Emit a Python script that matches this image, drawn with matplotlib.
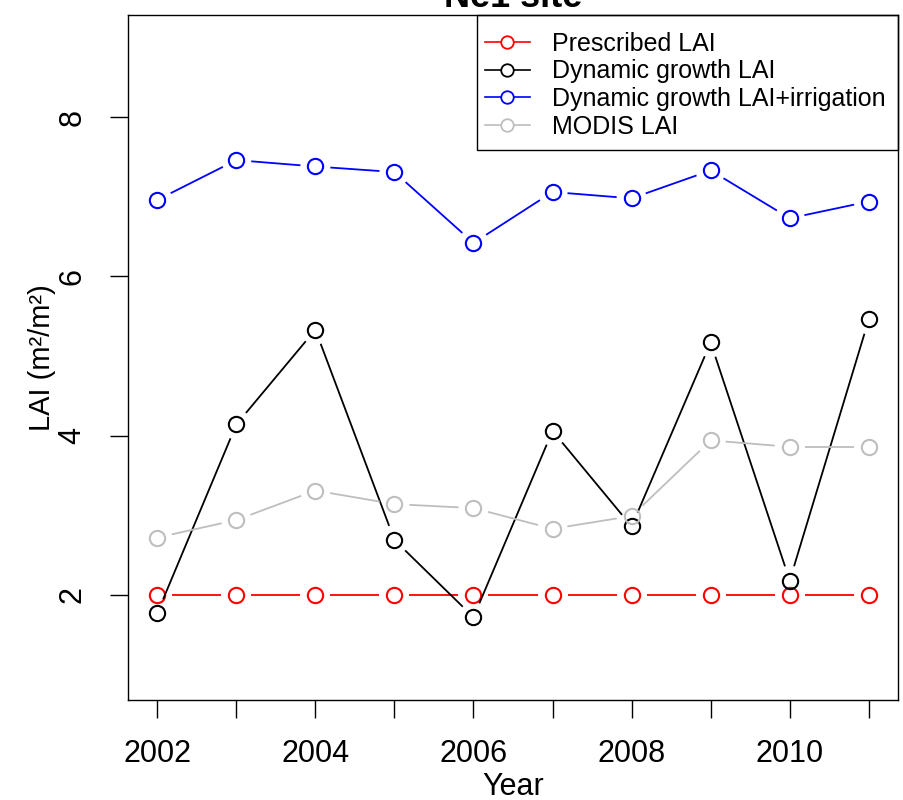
import numpy as np
import matplotlib.pyplot as plt
from matplotlib.lines import Line2D
from matplotlib.patches import Rectangle

plt.rcParams["font.family"] = ["Liberation Sans", "DejaVu Sans"]

# ── data ──────────────────────────────────────────────────────────────────────
years = [2002, 2003, 2004, 2005, 2006, 2007, 2008, 2009, 2010, 2011]
prescribed = [2.0, 2.0, 2.0, 2.0, 2.0, 2.0, 2.0, 2.0, 2.0, 2.0]
dynamic = [1.77, 4.14, 5.33, 2.69, 1.72, 4.06, 2.86, 5.17, 2.18, 5.46]
dyn_irrig = [6.96, 7.46, 7.38, 7.31, 6.42, 7.06, 6.98, 7.33, 6.73, 6.94]
modis = [2.72, 2.94, 3.31, 3.14, 3.09, 2.83, 2.99, 3.94, 3.86, 3.86]

names = ["Prescribed LAI", "Dynamic growth LAI",
         "Dynamic growth LAI+irrigation", "MODIS LAI"]
values = [prescribed, dynamic, dyn_irrig, modis]
colors = ["#ff0000", "#000000", "#0000ff", "#bebebe"]

GAP = 15  # px left open around each point, like R's type="b"

# ── plot ──────────────────────────────────────────────────────────────────────
fig = plt.figure(figsize=(9.04, 8), dpi=100)
ax = fig.add_axes([0.1416, 0.125, 0.8518, 0.856])
ax.set_xlim(2001.63, 2011.37)
ax.set_ylim(0.68, 9.28)

trans = ax.transData
inv = trans.inverted()

for vals, col in zip(values, colors):
    pts = trans.transform(np.column_stack([years, vals]))
    for p0, p1 in zip(pts[:-1], pts[1:]):
        d = p1 - p0
        L = np.hypot(*d)
        if L <= 2 * GAP:
            continue
        u = d / L
        seg = inv.transform(np.array([p0 + u * GAP, p1 - u * GAP]))
        ax.plot(seg[:, 0], seg[:, 1], color=col, linewidth=1.3,
                solid_capstyle="butt")
    ax.plot(years, vals, linestyle="none", marker="o", markersize=11,
            markerfacecolor="none", markeredgecolor=col, markeredgewidth=1.5)

ax.set_xticks(years)
ax.set_xticklabels([str(y) if y % 2 == 0 else "" for y in years])
ax.set_yticks([2, 4, 6, 8])
ax.set_yticklabels(["2", "4", "6", "8"], rotation=90, va="center")
ax.tick_params(direction="out", length=13, width=1, labelsize=22)
ax.tick_params(axis="x", pad=15)
ax.tick_params(axis="y", pad=16)

for s in ax.spines.values():
    s.set_linewidth(1)

ax.set_xlabel("Year", fontsize=22, labelpad=2)
ax.set_ylabel("LAI (m\u00b2/m\u00b2)", fontsize=21, labelpad=1)
fig.text(0.5675, 1 - 7 / 800, "Ne1 site", fontsize=26, fontweight="bold",
         ha="center", va="baseline")

# legend: R-style box, wider top/bottom padding than at the sides
handles = [Line2D([], [], color=c, linewidth=1.2, marker="o", markersize=9,
                  markerfacecolor="white", markeredgecolor=c,
                  markeredgewidth=1.3) for c in colors]
ax.legend(handles, names, loc="upper left", bbox_to_anchor=(0.4636, 0.976),
          fontsize=18, frameon=False, borderaxespad=0, borderpad=0,
          handlelength=1.8, handletextpad=0.9, labelspacing=0.15)
ax.add_patch(Rectangle((0.4532, 0.8029), 1 - 0.4532, 1 - 0.8029,
                       transform=ax.transAxes, fill=False, edgecolor="black",
                       linewidth=1, clip_on=False, zorder=5))

fig.savefig("out.png", dpi=100)
